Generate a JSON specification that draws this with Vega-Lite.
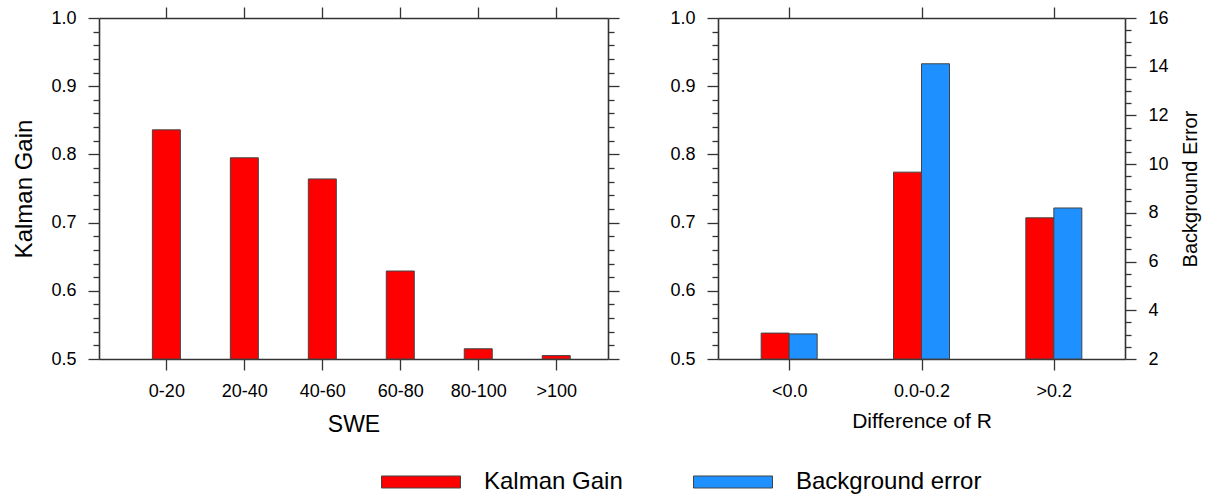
{
  "$schema": "https://vega.github.io/schema/vega-lite/v6.json",
  "background": "white",
  "padding": {"left": 12, "top": 6, "right": 5, "bottom": 5},
  "bounds": "flush",
  "spacing": 110,
  "config": {
    "font": "Liberation Sans",
    "view": {"stroke": null},
    "axis": {
      "grid": false,
      "domainColor": "#333333",
      "domainWidth": 1.6,
      "tickColor": "#333333",
      "tickWidth": 1.3,
      "labelColor": "#000000",
      "titleColor": "#000000",
      "labelFont": "Liberation Sans",
      "titleFont": "Liberation Sans",
      "titleFontWeight": "normal",
      "labelFontSize": 18
    }
  },
  "hconcat": [
    {
      "width": 509,
      "height": 341,
      "data": {"values": [
        {"bin": "0-20", "idx": 1, "gain": 0.836},
        {"bin": "20-40", "idx": 2, "gain": 0.795},
        {"bin": "40-60", "idx": 3, "gain": 0.764},
        {"bin": "60-80", "idx": 4, "gain": 0.629},
        {"bin": "80-100", "idx": 5, "gain": 0.515},
        {"bin": ">100", "idx": 6, "gain": 0.505}
      ]},
      "layer": [
        {
          "mark": {"type": "bar", "size": 28, "stroke": "#444444", "strokeWidth": 1},
          "encoding": {
            "x": {"field": "idx", "type": "quantitative",
              "scale": {"domain": [0.2, 6.6], "nice": false, "zero": false},
              "axis": {"orient": "bottom", "values": [1, 2, 3, 4, 5, 6],
                "labelExpr": "['', '0-20', '20-40', '40-60', '60-80', '80-100', '>100'][datum.value]",
                "tickSize": 11, "labelPadding": 12, "title": "SWE", "titleFontSize": 23, "titlePadding": 13}},
            "y": {"field": "gain", "type": "quantitative",
              "scale": {"domain": [0.5, 1.0], "nice": false, "zero": false},
              "axis": {"orient": "left", "values": [0.5, 0.6, 0.7, 0.8, 0.9, 1.0], "format": ".1f",
                "tickSize": 11, "labelPadding": 12, "title": "Kalman Gain", "titleFontSize": 24, "titlePadding": 14}},
            "y2": {"datum": 0.5},
            "color": {"datum": "Kalman Gain", "type": "nominal",
              "scale": {"domain": ["Kalman Gain", "Background error"], "range": ["#ff0000", "#1e90ff"]},
              "legend": {"orient": "none", "legendX": 282, "legendY": 424, "direction": "horizontal", "title": null,
                "symbolType": "M-1,-0.152L1,-0.152L1,0.152L-1,0.152Z", "symbolSize": 6241,
                "symbolStrokeColor": "#555555", "symbolStrokeWidth": 1,
                "labelFontSize": 24, "labelFont": "Liberation Sans", "labelColor": "#000000", "labelLimit": 500,
                "labelOffset": 23, "columnPadding": 68}}
          }
        },
        {
          "mark": {"type": "bar", "size": 28, "opacity": 0},
          "encoding": {
            "x": {"field": "idx", "type": "quantitative",
              "scale": {"domain": [0.2, 6.6], "nice": false, "zero": false},
              "axis": {"orient": "top", "values": [1, 2, 3, 4, 5, 6], "labels": false, "tickSize": 11, "title": null}},
            "y": {"field": "gain", "type": "quantitative",
              "scale": {"domain": [0.5, 1.0], "nice": false, "zero": false},
              "axis": {"orient": "left", "domain": false, "labels": false, "tickSize": 6, "title": null,
                "values": [0.52, 0.54, 0.56, 0.58, 0.62, 0.64, 0.66, 0.68, 0.72, 0.74, 0.76, 0.78, 0.82, 0.84, 0.86, 0.88, 0.92, 0.94, 0.96, 0.98]}},
            "y2": {"datum": 0.5}
          }
        },
        {
          "mark": {"type": "bar", "size": 28, "opacity": 0},
          "encoding": {
            "x": {"field": "idx", "type": "quantitative",
              "scale": {"domain": [0.2, 6.6], "nice": false, "zero": false}, "axis": null},
            "y": {"field": "gain", "type": "quantitative",
              "scale": {"domain": [0.5, 1.0], "nice": false, "zero": false},
              "axis": {"orient": "right", "labels": false, "tickSize": 11, "title": null,
                "values": [0.5, 0.6, 0.7, 0.8, 0.9, 1.0]}},
            "y2": {"datum": 0.5}
          }
        },
        {
          "mark": {"type": "bar", "size": 28, "opacity": 0},
          "encoding": {
            "x": {"field": "idx", "type": "quantitative",
              "scale": {"domain": [0.2, 6.6], "nice": false, "zero": false}, "axis": null},
            "y": {"field": "gain", "type": "quantitative",
              "scale": {"domain": [0.5, 1.0], "nice": false, "zero": false},
              "axis": {"orient": "right", "domain": false, "labels": false, "tickSize": 6, "title": null,
                "values": [0.52, 0.54, 0.56, 0.58, 0.62, 0.64, 0.66, 0.68, 0.72, 0.74, 0.76, 0.78, 0.82, 0.84, 0.86, 0.88, 0.92, 0.94, 0.96, 0.98]}},
            "y2": {"datum": 0.5}
          }
        }
      ],
      "resolve": {"axis": {"x": "independent", "y": "independent"}}
    },
    {
      "width": 407,
      "height": 341,
      "data": {"values": [
        {"diff": "<0.0", "idx": 1, "gain": 0.538, "bgerr": 3.03},
        {"diff": "0.0-0.2", "idx": 2, "gain": 0.774, "bgerr": 14.12},
        {"diff": ">0.2", "idx": 3, "gain": 0.707, "bgerr": 8.2}
      ]},
      "layer": [
        {
          "mark": {"type": "bar", "size": 28, "xOffset": -14, "stroke": "#444444", "strokeWidth": 1},
          "encoding": {
            "x": {"field": "idx", "type": "quantitative",
              "scale": {"domain": [0.5, 3.5], "nice": false, "zero": false},
              "axis": {"orient": "bottom", "values": [1, 2, 3],
                "labelExpr": "['', '<0.0', '0.0-0.2', '>0.2'][datum.value]",
                "tickSize": 11, "labelPadding": 12, "title": "Difference of R", "titleFontSize": 21, "titlePadding": 10}},
            "y": {"field": "gain", "type": "quantitative",
              "scale": {"domain": [0.5, 1.0], "nice": false, "zero": false},
              "axis": {"orient": "left", "values": [0.5, 0.6, 0.7, 0.8, 0.9, 1.0], "format": ".1f",
                "tickSize": 11, "labelPadding": 12, "title": null}},
            "y2": {"datum": 0.5},
            "color": {"datum": "Kalman Gain", "type": "nominal"}
          }
        },
        {
          "mark": {"type": "bar", "size": 28, "xOffset": 14, "stroke": "#444444", "strokeWidth": 1},
          "encoding": {
            "x": {"field": "idx", "type": "quantitative",
              "scale": {"domain": [0.5, 3.5], "nice": false, "zero": false},
              "axis": {"orient": "top", "values": [1, 2, 3], "labels": false, "tickSize": 11, "title": null}},
            "y": {"field": "bgerr", "type": "quantitative",
              "scale": {"domain": [2, 16], "nice": false, "zero": false},
              "axis": {"orient": "right", "values": [2, 4, 6, 8, 10, 12, 14, 16],
                "tickSize": 11, "labelPadding": 12, "title": "Background Error", "titleFontSize": 20,
                "titleAngle": -90, "titleBaseline": "top", "titlePadding": 12}},
            "y2": {"datum": 2},
            "color": {"datum": "Background error", "type": "nominal"}
          }
        },
        {
          "mark": {"type": "bar", "size": 28, "opacity": 0},
          "encoding": {
            "x": {"field": "idx", "type": "quantitative",
              "scale": {"domain": [0.5, 3.5], "nice": false, "zero": false}, "axis": null},
            "y": {"field": "gain", "type": "quantitative",
              "scale": {"domain": [0.5, 1.0], "nice": false, "zero": false},
              "axis": {"orient": "left", "domain": false, "labels": false, "tickSize": 6, "title": null,
                "values": [0.52, 0.54, 0.56, 0.58, 0.62, 0.64, 0.66, 0.68, 0.72, 0.74, 0.76, 0.78, 0.82, 0.84, 0.86, 0.88, 0.92, 0.94, 0.96, 0.98]}},
            "y2": {"datum": 0.5}
          }
        },
        {
          "mark": {"type": "bar", "size": 28, "opacity": 0},
          "encoding": {
            "x": {"field": "idx", "type": "quantitative",
              "scale": {"domain": [0.5, 3.5], "nice": false, "zero": false}, "axis": null},
            "y": {"field": "bgerr", "type": "quantitative",
              "scale": {"domain": [2, 16], "nice": false, "zero": false},
              "axis": {"orient": "right", "domain": false, "labels": false, "tickSize": 6, "title": null,
                "values": [2.5, 3, 3.5, 4.5, 5, 5.5, 6.5, 7, 7.5, 8.5, 9, 9.5, 10.5, 11, 11.5, 12.5, 13, 13.5, 14.5, 15, 15.5]}},
            "y2": {"datum": 2}
          }
        }
      ],
      "resolve": {"scale": {"y": "independent"}, "axis": {"x": "independent", "y": "independent"}}
    }
  ]
}
